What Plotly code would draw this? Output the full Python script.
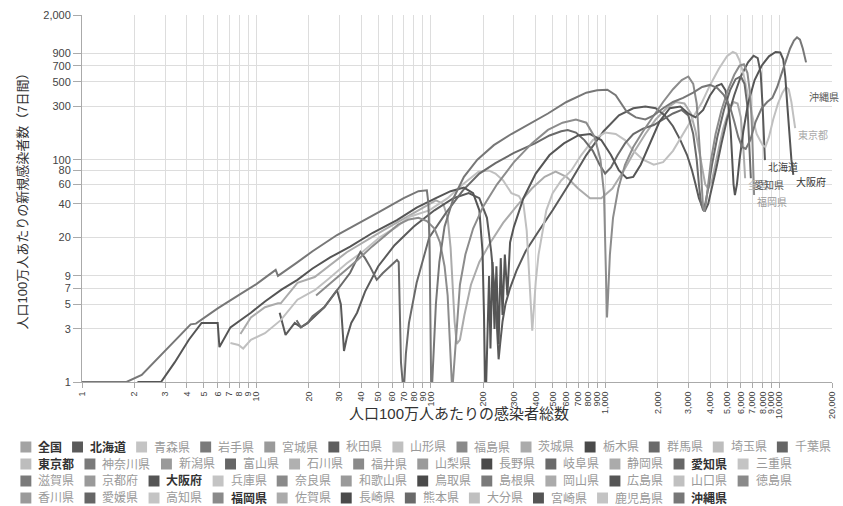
import math
import plotly.graph_objects as go

# ---------------- data (cumulative cases per 1M  vs  7-day new cases per 1M) ----------------
okinawa_x = [1, 1.8, 2.2, 3, 4.2, 4.5, 6, 8, 10, 12.9, 13.3, 17, 21, 29, 41, 51, 70, 85, 95, 97, 98.5, 99.5, 100.5, 102, 104, 107, 112, 120, 135, 155, 185, 230, 290, 370, 470, 600, 780, 900, 1030, 1150, 1330, 1500, 1700, 1900, 2150, 2450, 2800, 3200, 3600, 4000, 4400, 4800, 5200, 5500, 5800, 6100, 6400, 6800, 7300, 7900, 8500, 9100, 9700, 10300, 10900, 11500, 12100, 12600, 13100, 13600, 14200]
okinawa_y = [1, 1, 1.16, 1.9, 3.3, 3.35, 4.6, 6.1, 7.6, 10.2, 9.0, 11.8, 15, 21, 28, 34, 45, 52, 53, 40, 15, 4, 1, 1, 2, 5, 12, 25, 45, 70, 100, 135, 170, 210, 260, 330, 400, 420, 425, 380, 270, 240, 230, 250, 290, 330, 360, 400, 450, 470, 440, 380, 300, 220, 160, 130, 125, 150, 220, 290, 330, 360, 450, 600, 800, 1000, 1180, 1260, 1200, 1000, 750, 550, 423]

osaka_x = [2.08, 2.84, 3.4, 4.1, 4.85, 5.5, 6.0, 6.14, 6.5, 7.1, 9.3, 11.2, 14, 17.2, 21, 26.5, 34.5, 46.5, 64, 83, 107, 130, 155, 175, 190, 198, 202, 205, 208, 212, 216, 220, 226, 232, 238, 245, 252, 258, 266, 275, 285, 300, 340, 400, 480, 580, 700, 820, 950, 1080, 1200, 1330, 1450, 1600, 1800, 2050, 2350, 2700, 3000, 3300, 3650, 4000, 4350, 4650, 4900, 5100, 5250, 5350, 5450, 5550, 5700, 5900, 6200, 6600, 7200, 7900, 8700, 9500, 10100, 10500, 10800, 11100, 11400, 11700, 12000]
osaka_y = [1, 1, 1.5, 2.4, 3.4, 3.4, 3.4, 2.06, 2.4, 3.1, 4.2, 5.3, 6.8, 8.3, 10.5, 13.2, 16.5, 22, 28.6, 37, 45, 52, 56, 50, 35, 15, 4, 1, 1, 2.5, 9, 2, 12, 3, 11, 2.2, 13, 4, 14, 6, 18, 25, 45, 75, 110, 140, 165, 170, 150, 110, 80, 68, 70, 90, 140, 220, 290, 300, 260, 240, 280, 380, 460, 480, 420, 300, 180, 100, 60, 48, 60, 100, 180, 320, 520, 700, 850, 930, 920, 800, 550, 300, 160, 100, 73]

tokyo_x = [7.1, 7.9, 8.4, 9.3, 11.2, 13.8, 17.2, 21.6, 26, 33, 41, 51, 64, 75, 98, 125, 153, 188, 215, 235, 260, 290, 320, 340, 355, 365, 375, 382, 390, 400, 415, 435, 460, 500, 560, 640, 730, 850, 1000, 1150, 1300, 1450, 1650, 1900, 2150, 2450, 2800, 3200, 3600, 4000, 4500, 5000, 5400, 5650, 5900, 6200, 6500, 6800, 7100, 7400, 7700, 8000, 8300, 8700, 9200, 9800, 10400, 10900, 11300, 11700, 12000, 12300]
tokyo_y = [2.24, 2.15, 2.0, 2.4, 2.75, 3.6, 5.5, 6.7, 8.5, 11.7, 15, 20, 25, 30.5, 35, 45, 60, 78, 80, 75, 65, 50, 47, 40, 23, 10, 4, 2.9, 4.5, 8, 14, 22, 35, 50, 65, 80, 110, 150, 175, 170, 150, 120, 100, 90, 95, 120, 170, 240, 330, 470, 660, 850, 930, 900, 780, 600, 420, 300, 220, 170, 150, 135, 130, 160, 230, 320, 400, 450, 430, 330, 250, 192]

zenkoku_x = [8.1, 9.3, 11.2, 13.3, 13.8, 17.2, 21.6, 33, 54, 79, 107, 118, 125, 130, 134, 137, 141, 147, 156, 170, 190, 220, 260, 310, 380, 450, 520, 600, 700, 820, 950, 1100, 1280, 1480, 1700, 1950, 2250, 2550, 2850, 3100, 3300, 3450, 3600, 3750, 3900, 4100, 4400, 4750, 5100, 5450, 5750, 6000, 6200, 6350]
zenkoku_y = [2.7, 3.8, 4.7, 5.1, 5.1, 7.8, 8.8, 14.7, 23.3, 33, 43, 40, 30, 16, 7, 3.5, 2.2, 2.4, 4, 7.5, 12, 18, 27, 38, 55, 70, 78, 70, 55, 45, 45, 55, 80, 120, 170, 230, 290, 330, 320, 260, 180, 120, 80, 60, 55, 65, 110, 190, 270, 330, 320, 240, 130, 68]

hokkaido_x = [13.6, 14.7, 16.6, 18, 19.7, 22, 24.5, 29, 30.5, 31.2, 31.8, 33, 35, 37.8, 42, 50, 62, 80, 105, 135, 165, 190, 210, 222, 232, 240, 245, 250, 258, 268, 285, 310, 350, 410, 500, 620, 780, 980, 1200, 1450, 1700, 1950, 2200, 2450, 2700, 2950, 3150, 3300, 3450, 3600, 3750, 3900, 4100, 4350, 4650, 5000, 5500, 6000, 6600, 7100, 7500, 7800, 8000, 8150, 8250]
hokkaido_y = [4.2, 2.65, 3.4, 3.1, 3.4, 4.0, 4.7, 6.7, 5, 3, 1.9, 2.5, 3.4, 4.2, 6.5, 11, 17, 25, 35, 45, 50, 45, 30, 15, 7, 3, 1.6, 2.2, 3.5, 5, 7, 10, 15, 22, 35, 60, 110, 180, 250, 290, 300, 290, 250, 200, 150, 110, 80, 60, 45, 38, 35, 40, 55, 85, 140, 230, 380, 560, 750, 860, 820, 600, 300, 150, 99]

aichi_x = [17, 18, 19.7, 21, 24.5, 29, 34.5, 39.5, 42, 45, 49, 53, 58, 64, 65.5, 66.5, 67.5, 69, 70.5, 72, 75, 83, 98, 122, 153, 190, 235, 300, 396, 480, 560, 610, 680, 760, 850, 930, 1000, 1080, 1180, 1300, 1450, 1650, 1900, 2150, 2450, 2750, 3000, 3200, 3350, 3450, 3550, 3650, 3750, 3900, 4100, 4400, 4800, 5200, 5600, 6000, 6300, 6550, 6700, 6800, 6850]
aichi_y = [3.6, 3.1, 3.4, 3.9, 4.7, 6.7, 9.6, 14.8, 13, 10.8, 8.3, 9.5, 10.8, 12.5, 12, 5, 1.5, 1, 1, 1.8, 3.4, 7.8, 20, 33, 53, 75, 93, 115, 140, 165, 180, 185, 175, 150, 120, 90, 75, 85, 110, 140, 170, 190, 205, 230, 260, 280, 250, 170, 100, 60, 40, 35, 40, 55, 90, 160, 280, 420, 530, 560, 480, 300, 160, 95, 68]

fukuoka_x = [22, 26, 31, 38, 46, 55, 65, 75, 85, 95, 105, 113, 120, 125, 128, 130, 132, 134, 137, 141, 147, 158, 175, 200, 240, 300, 380, 470, 570, 680, 780, 870, 940, 985, 1005, 1015, 1025, 1040, 1065, 1110, 1190, 1300, 1450, 1650, 1900, 2150, 2450, 2750, 3000, 3200, 3350, 3450, 3520, 3580, 3640, 3700, 3780, 3900, 4050, 4300, 4650, 5050, 5500, 5900, 6250, 6550, 6800, 6950, 7050, 7150]
fukuoka_y = [6, 7.5, 9.5, 12.5, 16.5, 21, 26, 29, 30, 28, 24, 18, 11, 6, 3, 1.5, 1, 1, 1.6, 3.5, 7.5, 14, 24, 38, 60, 95, 140, 185, 215, 230, 215, 160, 100, 50, 15, 5, 3.8, 6, 14, 30, 55, 90, 130, 180, 250, 330, 430, 520, 560, 480, 320, 180, 100, 60, 38, 34, 40, 60, 100, 170, 280, 420, 580, 700, 720, 600, 380, 200, 100, 48]

x_tickvals = [1, 2, 3, 4, 5, 6, 7, 8, 9, 10, 20, 30, 40, 50, 60, 70, 80, 90, 100,
              200, 300, 400, 500, 600, 700, 800, 900, 1000,
              2000, 3000, 4000, 5000, 6000, 7000, 8000, 9000, 10000, 20000]
x_ticktext = [f"{v:,}" for v in x_tickvals]
y_tickvals = [1, 3, 5, 7, 9, 20, 40, 60, 80, 100, 300, 500, 700, 900, 2000]
y_ticktext = [f"{v:,}" for v in y_tickvals]

legend_names = ["全国", "北海道", "青森県", "岩手県", "宮城県", "秋田県", "山形県", "福島県", "茨城県", "栃木県", "群馬県", "埼玉県", "千葉県",
                "東京都", "神奈川県", "新潟県", "富山県", "石川県", "福井県", "山梨県", "長野県", "岐阜県", "静岡県", "愛知県", "三重県",
                "滋賀県", "京都府", "大阪府", "兵庫県", "奈良県", "和歌山県", "鳥取県", "島根県", "岡山県", "広島県", "山口県", "徳島県",
                "香川県", "愛媛県", "高知県", "福岡県", "佐賀県", "長崎県", "熊本県", "大分県", "宮崎県", "鹿児島県", "沖縄県"]
legend_colors = ["#a3a3a3", "#5a5a5a", "#c4c4c4", "#7a7a7a", "#9a9a9a", "#5e5e5e", "#c0c0c0", "#8a8a8a", "#ababab", "#4a4a4a", "#6a6a6a", "#bdbdbd", "#666666",
                 "#bdbdbd", "#7a7a7a", "#9a9a9a", "#666666", "#b0b0b0", "#8a8a8a", "#9a9a9a", "#4a4a4a", "#6a6a6a", "#ababab", "#666666", "#c4c4c4",
                 "#7a7a7a", "#9a9a9a", "#555555", "#c4c4c4", "#8a8a8a", "#9a9a9a", "#4a4a4a", "#7a7a7a", "#ababab", "#555555", "#c0c0c0", "#8a8a8a",
                 "#9a9a9a", "#666666", "#c4c4c4", "#8a8a8a", "#ababab", "#4a4a4a", "#6a6a6a", "#c0c0c0", "#555555", "#c4c4c4", "#777777"]

series = [
    ("全国", zenkoku_x, zenkoku_y, "#ababab", "#b5b5b5"),
    ("北海道", hokkaido_x, hokkaido_y, "#5a5a5a", "#444444"),
    ("東京都", tokyo_x, tokyo_y, "#c0c0c0", "#aaaaaa"),
    ("愛知県", aichi_x, aichi_y, "#6a6a6a", "#555555"),
    ("大阪府", osaka_x, osaka_y, "#555555", "#333333"),
    ("福岡県", fukuoka_x, fukuoka_y, "#8c8c8c", "#999999"),
    ("沖縄県", okinawa_x, okinawa_y, "#777777", "#555555"),
]
shown = {s[0] for s in series}

FONT = "Liberation Sans, Noto Sans CJK JP, sans-serif"
W, H = 843, 506
L, R, T, B = 82, 6, 15, 124
PW, PH = W - L - R, H - T - B


def px2paper_x(px):
    return (px - L) / PW


def px2paper_y(py):
    return (H - B - py) / PH


fig = go.Figure()
annotations = []
for name, xs, ys, col, lab_col in series:
    fig.add_trace(go.Scatter(x=xs, y=ys, mode="lines", name=name, showlegend=False,
                             line=dict(color=col, width=2), hoverinfo="skip"))
    annotations.append(dict(x=math.log10(xs[-1]), y=math.log10(ys[-1]), xref="x", yref="y",
                            text=name, showarrow=False, xanchor="left", yanchor="middle",
                            xshift=1, yshift=-7, font=dict(size=10, color=lab_col, family=FONT)))

# axis titles
annotations.append(dict(x=px2paper_x(462), y=px2paper_y(413), xref="paper", yref="paper",
                        xanchor="center", yanchor="middle",
                        text="人口100万人あたりの感染者総数", showarrow=False,
                        font=dict(size=15, color="#333", family=FONT)))
annotations.append(dict(x=px2paper_x(22), y=px2paper_y(198), xref="paper", yref="paper",
                        xanchor="center", yanchor="middle",
                        text="人口100万人あたりの新規感染者数（7日間）", showarrow=False, textangle=-90,
                        font=dict(size=13, color="#333", family=FONT)))

# custom legend (square swatches, flowing rows)
shapes = []
row_y = [447, 464, 481, 498]
x = 20
row = 0
for name, col in zip(legend_names, legend_colors):
    tw = 12.5 * len(name)
    if x + 17 + tw > 842:
        row += 1
        x = 20
    cy = row_y[row]
    shapes.append(dict(type="rect", xref="paper", yref="paper",
                       x0=px2paper_x(x), x1=px2paper_x(x + 11),
                       y0=px2paper_y(cy + 5.5), y1=px2paper_y(cy - 5.5),
                       fillcolor=col, line=dict(width=0)))
    on = name in shown
    annotations.append(dict(x=px2paper_x(x + 16), y=px2paper_y(cy), xref="paper", yref="paper",
                            text=(f"<b>{name}</b>" if on else name), showarrow=False,
                            xanchor="left", yanchor="middle",
                            font=dict(size=12, color=("#333333" if on else "#9a9a9a"), family=FONT)))
    x += 27 + tw

fig.update_xaxes(type="log", range=[0, math.log10(20000)], tickvals=x_tickvals, ticktext=x_ticktext,
                 tickangle=-90, showgrid=True, gridcolor="#dddddd", gridwidth=1, zeroline=False,
                 showline=True, linecolor="#aaaaaa", linewidth=1, ticks="outside", ticklen=5,
                 tickcolor="#aaaaaa", tickfont=dict(size=9, color="#444", family=FONT))
fig.update_yaxes(type="log", range=[0, math.log10(2000)], tickvals=y_tickvals, ticktext=y_ticktext,
                 showgrid=True, gridcolor="#dddddd", gridwidth=1, zeroline=False,
                 showline=True, linecolor="#aaaaaa", linewidth=1, ticks="outside", ticklen=8,
                 tickcolor="#aaaaaa", tickfont=dict(size=11, color="#444", family=FONT))

fig.update_layout(width=W, height=H, margin=dict(l=L, r=R, t=T, b=B),
                  plot_bgcolor="white", paper_bgcolor="white", showlegend=False,
                  annotations=annotations, shapes=shapes, font=dict(family=FONT))

fig.write_html("out.html", config={"displayModeBar": False},
               post_script="document.body.style.margin='0px';document.body.style.padding='0px';")
